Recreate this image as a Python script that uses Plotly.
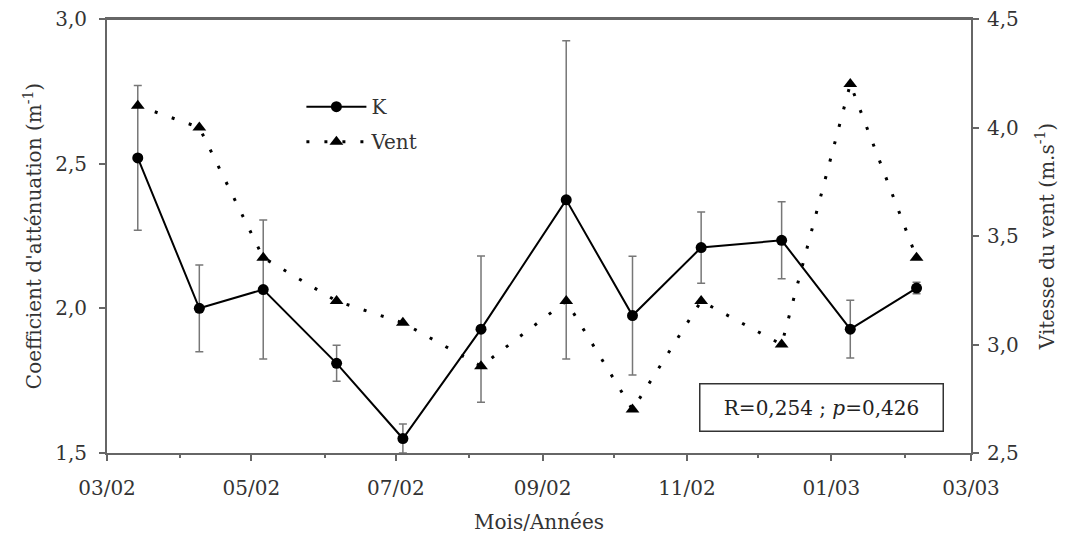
import plotly.graph_objects as go

dates = ["2002-03-14", "2002-04-09", "2002-05-06", "2002-06-06", "2002-07-04", "2002-08-06",
         "2002-09-11", "2002-10-09", "2002-11-07", "2002-12-11", "2003-01-09", "2003-02-06"]
k_values = [2.52, 2.00, 2.065, 1.81, 1.55, 1.928, 2.375, 1.975, 2.21, 2.235, 1.928, 2.07]
k_errors = [0.25, 0.15, 0.24, 0.062, 0.05, 0.253, 0.55, 0.205, 0.123, 0.133, 0.10, 0.02]
wind_values = [4.1, 4.0, 3.4, 3.2, 3.1, 2.9, 3.2, 2.7, 3.2, 3.0, 4.2, 3.4]

FONT = "DejaVu Serif"
FS = 20
AXC = "#666666"
TXT = "#333333"

fig = go.Figure()
fig.add_trace(go.Scatter(
    x=dates, y=k_values, name="K", mode="lines+markers", legendgroup="k",
    line=dict(color="black", width=2),
    marker=dict(symbol="circle", size=11, color="black"),
    error_y=dict(type="data", array=k_errors, visible=True, color="#777777", thickness=1.5, width=4),
    yaxis="y",
))
fig.add_trace(go.Scatter(
    x=dates, y=wind_values, name="Vent", mode="lines+markers", legendgroup="v",
    line=dict(color="black", width=3, dash="3px,15px"),
    marker=dict(symbol="triangle-up", size=12, color="black"),
    yaxis="y2",
))

fig.update_layout(
    width=1076, height=536,
    margin=dict(l=99, r=113, t=11, b=91),
    paper_bgcolor="white", plot_bgcolor="white",
    separators=", ",
    font=dict(family=FONT, size=FS, color=TXT),
    showlegend=True,
    legend=dict(x=0.225, y=0.843, xanchor="left", yanchor="top",
                bgcolor="rgba(0,0,0,0)", font=dict(family=FONT, size=FS, color=TXT),
                itemwidth=60, tracegroupgap=6),
    xaxis=dict(
        type="date", range=["2002-03-01", "2003-03-01"],
        dtick="M2", tick0="2002-03-01", tickformat="%m/%y",
        ticks="outside", ticklen=6, tickcolor=AXC, tickwidth=1.5,
        minor=dict(dtick="M1", ticks="outside", ticklen=3, tickcolor=AXC, tickwidth=1.5),
        showline=True, linecolor=AXC, linewidth=2, mirror=True,
        showgrid=False, zeroline=False, automargin=False, ticklabelstandoff=10,
        ticklabeloverflow="allow",
        title=dict(text="Mois/Années", standoff=16, font=dict(family=FONT, size=FS)),
        tickfont=dict(family=FONT, size=FS),
    ),
    yaxis=dict(
        range=[1.5, 3.0], dtick=0.5, tickformat=".1f",
        ticks="outside", ticklen=6, tickcolor=AXC, tickwidth=1.5,
        showline=True, linecolor=AXC, linewidth=2,
        showgrid=False, zeroline=False, automargin=False, ticklabelstandoff=8,
        ticklabeloverflow="allow",
        title=dict(text="Coefficient d'atténuation (m<sup>-1</sup>)", standoff=8, font=dict(family=FONT, size=FS)),
        tickfont=dict(family=FONT, size=FS),
    ),
    yaxis2=dict(
        range=[2.5, 4.5], dtick=0.5, tickformat=".1f", overlaying="y", side="right",
        ticks="outside", ticklen=6, tickcolor=AXC, tickwidth=1.5,
        showline=True, linecolor=AXC, linewidth=2,
        showgrid=False, zeroline=False, automargin=False, ticklabelstandoff=4,
        ticklabeloverflow="allow",
        title=dict(text="Vitesse du vent (m.s<sup>-1</sup>)", standoff=22, font=dict(family=FONT, size=FS)),
        tickfont=dict(family=FONT, size=FS),
    ),
    shapes=[dict(type="line", xref="paper", yref="paper", x0=0, x1=1, y0=1, y1=1,
                 line=dict(color=AXC, width=2), layer="above")],
    annotations=[dict(
        xref="paper", yref="paper", x=0.8275, y=0.104, xanchor="center", yanchor="middle",
        text="R=0,254 ; <i>p</i>=0,426", showarrow=False,
        font=dict(family=FONT, size=20, color="#222222"),
        bordercolor="#333333", borderwidth=1.5, width=240, height=44, bgcolor="white",
    )],
)

fig.write_html("out.html")
